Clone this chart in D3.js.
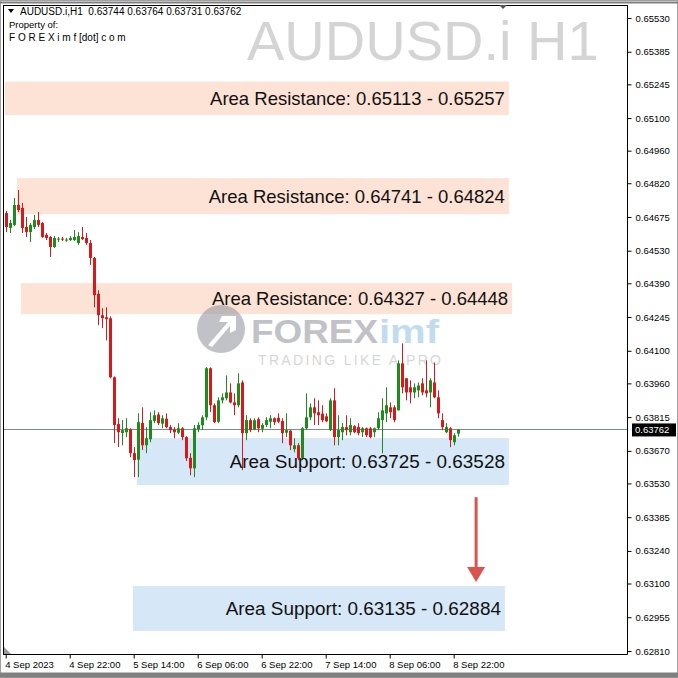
<!DOCTYPE html>
<html><head><meta charset="utf-8">
<script src="https://cdn.jsdelivr.net/npm/d3@7"></script>
<style>html,body{margin:0;padding:0;background:#fff;overflow:hidden}svg{display:block}</style>
</head><body><svg id="c" width="678" height="678"></svg>
<script>
// ---- data ----
const opens  = [.64692,.64628,.64641,.64727,.64714,.64632,.64610,.64632,.64662,.64649,.64598,.64589,.64546,.64580,.64582,.64576,.64576,.64576,.64563,.64589,.64585,.64563,.64499,.64345,.64253,.64244,.64240,.63986,.63785,.63746,.63750,.63763,.63660,.63632,.63790,.63694,.63720,.63798,.63826,.63787,.63808,.63772,.63762,.63748,.63767,.63729,.63640,.63595,.63763,.63780,.63814,.64025,.63866,.63795,.63887,.63896,.63921,.63878,.63866,.63964,.63746,.63802,.63762,.63806,.63765,.63781,.63795,.63810,.63812,.63798,.63748,.63757,.63677,.63694,.63638,.63767,.63814,.63857,.63836,.63830,.63818,.63759,.63887,.63729,.63750,.63772,.63750,.63776,.63772,.63750,.63767,.63767,.63750,.63767,.63802,.63831,.63857,.63857,.63844,.64046,.63982,.63943,.63921,.63930,.63960,.63930,.63921,.63964,.63900,.63802,.63750,.63767,.63707,.63744];
const highs  = [.64701,.64662,.64757,.64791,.64735,.64675,.64649,.64684,.64696,.64653,.64606,.64593,.64593,.64589,.64590,.64585,.64593,.64619,.64610,.64632,.64606,.64576,.64503,.64360,.64283,.64287,.64248,.63990,.63810,.63802,.63810,.63767,.63686,.63831,.63857,.63772,.63836,.63844,.63836,.63823,.63831,.63781,.63772,.63789,.63772,.63733,.63660,.63781,.63793,.63823,.64030,.64029,.63874,.63900,.63917,.63994,.63960,.63917,.64003,.63973,.63823,.63810,.63810,.63814,.63789,.63814,.63823,.63814,.63831,.63810,.63831,.63759,.63724,.63703,.63772,.63917,.63874,.63896,.63887,.63866,.63831,.63896,.63939,.63823,.63789,.63823,.63810,.63781,.63789,.63772,.63770,.63772,.63770,.63836,.63896,.63943,.63878,.63866,.64059,.64132,.63982,.63973,.63960,.63964,.63982,.64059,.63982,.64050,.63930,.63831,.63789,.63772,.63746,.63764];
const lows   = [.64610,.64606,.64636,.64696,.64606,.64589,.64567,.64623,.64632,.64585,.64576,.64503,.64542,.64567,.64572,.64568,.64572,.64572,.64555,.64576,.64555,.64469,.64287,.64210,.64197,.64145,.63982,.63703,.63686,.63694,.63729,.63643,.63557,.63557,.63673,.63660,.63707,.63789,.63781,.63767,.63767,.63746,.63724,.63742,.63716,.63626,.63565,.63557,.63750,.63759,.63802,.63836,.63789,.63789,.63874,.63887,.63874,.63823,.63857,.63587,.63716,.63750,.63759,.63750,.63750,.63772,.63767,.63781,.63789,.63703,.63729,.63673,.63664,.63630,.63630,.63759,.63802,.63781,.63781,.63793,.63793,.63755,.63694,.63694,.63716,.63737,.63737,.63746,.63737,.63729,.63729,.63724,.63729,.63759,.63660,.63793,.63810,.63793,.63844,.63917,.63887,.63874,.63896,.63900,.63909,.63900,.63857,.63896,.63810,.63759,.63746,.63686,.63694,.63731];
const closes = [.64632,.64649,.64727,.64705,.64628,.64610,.64641,.64662,.64641,.64589,.64585,.64546,.64585,.64582,.64580,.64578,.64585,.64589,.64593,.64580,.64563,.64499,.64339,.64253,.64240,.64236,.63986,.63781,.63750,.63759,.63767,.63660,.63630,.63793,.63694,.63724,.63802,.63823,.63789,.63810,.63772,.63759,.63750,.63767,.63729,.63638,.63595,.63767,.63781,.63814,.64025,.63866,.63793,.63887,.63900,.63921,.63878,.63866,.63960,.63746,.63802,.63759,.63802,.63767,.63781,.63802,.63810,.63793,.63795,.63746,.63759,.63694,.63694,.63638,.63767,.63814,.63857,.63831,.63823,.63802,.63797,.63887,.63729,.63759,.63772,.63759,.63781,.63750,.63746,.63767,.63737,.63729,.63767,.63810,.63844,.63866,.63836,.63802,.64046,.63943,.63921,.63921,.63943,.63951,.63921,.63917,.63973,.63900,.63831,.63772,.63772,.63716,.63737,.63762];

const priceTicks = ["0.65530","0.65385","0.65245","0.65100","0.64960","0.64820","0.64675","0.64530","0.64390","0.64245","0.64100","0.63960","0.63815","0.63670","0.63530","0.63385","0.63240","0.63100","0.62955","0.62810"];
const timeTickIdx = [0,16,32,48,64,80,96,112];
const timeTickLabels = ["4 Sep 2023","4 Sep 22:00","5 Sep 14:00","6 Sep 06:00","6 Sep 22:00","7 Sep 14:00","8 Sep 06:00","8 Sep 22:00"];

const zoneLabels = ["Area Resistance: 0.65113 - 0.65257","Area Resistance: 0.64741 - 0.64824","Area Resistance: 0.64327 - 0.64448","Area Support: 0.63725 - 0.63528","Area Support: 0.63135 - 0.62884"];
const zoneTop    = [0.65257,0.64842,0.64391,0.63725,0.63089];
const zoneBottom = [0.65113,0.64687,0.64258,0.63523,0.62896];
const zoneStart  = [-0.2,2.8,3.8,32.8,31.8];
const zoneEnd    = [125.8,125.8,126.6,125.8,124.8];
const zoneType   = ["res","res","res","sup","sup"];

const symbol = "AUDUSD.i";
const period = "H1";
const lastPrice = 0.63762;
const arrowFromTo = [0.63471, 0.63106]; // price span of arrow
const arrowIdx = 117.6;

// ---- drawing ----
const svg = d3.select("#c");
const L = 3, R = 627, T = 5, B = 654;
const x = d3.scaleLinear().domain([0, 113]).range([5.7, 457.7]);
const y = d3.scaleLinear().domain([0.62797, 0.65586]).range([B, T]);
const font = "'Liberation Sans', Arial, sans-serif";

// outer frame
svg.append("rect").attr("x",0).attr("y",0).attr("width",678).attr("height",678).attr("fill","#fff");
svg.append("rect").attr("x",0.5).attr("y",0.5).attr("width",677).attr("height",677).attr("fill","none").attr("stroke","#a0a0a0");
svg.append("line").attr("x1",0).attr("x2",678).attr("y1",2.5).attr("y2",2.5).attr("stroke","#808080").attr("stroke-width",2);
svg.append("line").attr("x1",0).attr("x2",678).attr("y1",675).attr("y2",675).attr("stroke","#808080").attr("stroke-width",5);

svg.append("defs").append("clipPath").attr("id","clip").append("rect").attr("x",L).attr("y",T).attr("width",R-L).attr("height",B-T);

// watermark title
svg.append("text").attr("x",247).attr("y",60).attr("font-family",font).attr("font-size",56)
  .attr("fill","#d4d4d4").text(symbol+" "+period);

// zone rectangles (behind candles)
const zg = svg.append("g");
zoneLabels.forEach((lab,i)=>{
  zg.append("rect").attr("x",x(zoneStart[i])).attr("y",y(zoneTop[i]))
    .attr("width",x(zoneEnd[i])-x(zoneStart[i])).attr("height",y(zoneBottom[i])-y(zoneTop[i]))
    .attr("fill", zoneType[i]==="res" ? "#fde3d6" : "#d6e7f7");
});

// logo watermark
const lg = svg.append("g").attr("opacity",0.55);
lg.append("circle").attr("cx",221).attr("cy",329).attr("r",24).attr("fill","#8e929c");
lg.append("path").attr("d","M208,345 L228,322 L219,322 L222,316 L236,316 L236,330 L230,333 L230,326 L212,347 Z").attr("fill","#fff");
lg.append("text").attr("x",251).attr("y",343).attr("font-family",font).attr("font-weight","bold").attr("font-size",34)
  .attr("fill","#8e929c").attr("textLength",127).attr("lengthAdjust","spacingAndGlyphs").text("FOREX");
lg.append("text").attr("x",379).attr("y",343).attr("font-family",font).attr("font-weight","bold").attr("font-size",34)
  .attr("fill","#8fc0e3").attr("textLength",60).attr("lengthAdjust","spacingAndGlyphs").text("imf");
svg.append("text").attr("x",258).attr("y",365).attr("font-family",font).attr("font-size",14)
  .attr("fill","#d6d6d6").attr("textLength",183).attr("lengthAdjust","spacing").text("TRADING LIKE A PRO");

// current price line
svg.append("line").attr("x1",L).attr("x2",R).attr("y1",Math.round(y(lastPrice))+0.5).attr("y2",Math.round(y(lastPrice))+0.5)
  .attr("stroke","#7f8a8f").attr("stroke-width",1);

// candles
const cg = svg.append("g").attr("clip-path","url(#clip)");
opens.forEach((o,i)=>{
  const c = closes[i], h = highs[i], l = lows[i];
  const up = c >= o;
  const col = up ? "#1e8b1e" : "#d7191c";
  const cx = Math.round(x(i)) + 0.5;
  cg.append("line").attr("x1",cx).attr("x2",cx).attr("y1",y(h)).attr("y2",y(l)).attr("stroke",col).attr("stroke-width",1);
  const top = y(Math.max(o,c)), bot = y(Math.min(o,c));
  cg.append("rect").attr("x",cx-1.5).attr("y",top).attr("width",3).attr("height",Math.max(1,bot-top)).attr("fill",col);
});

// zone labels (on top)
const tg = svg.append("g");
zoneLabels.forEach((lab,i)=>{
  tg.append("text").attr("x",x(zoneEnd[i])-4).attr("y",(y(zoneTop[i])+y(zoneBottom[i]))/2+6.5)
    .attr("text-anchor","end").attr("font-family",font).attr("font-size",zoneType[i]==="res"?18.5:18.9).attr("fill","#111").text(lab);
});

// arrow
const ax = x(arrowIdx);
const ay0 = y(arrowFromTo[0]), ay1 = y(arrowFromTo[1]);
svg.append("line").attr("x1",ax).attr("x2",ax).attr("y1",ay0).attr("y2",ay1-12)
  .attr("stroke","#d9534f").attr("stroke-width",3);
svg.append("path").attr("d",`M${ax-9},${ay1-15} L${ax+9},${ay1-15} L${ax},${ay1} Z`).attr("fill","#d9534f");

// axes frame
svg.append("line").attr("x1",R+0.5).attr("x2",R+0.5).attr("y1",T).attr("y2",B+0.5).attr("stroke","#000");
svg.append("line").attr("x1",L).attr("x2",R+0.5).attr("y1",B+0.5).attr("y2",B+0.5).attr("stroke","#000");
svg.append("line").attr("x1",L+0.5).attr("x2",L+0.5).attr("y1",T).attr("y2",B).attr("stroke","#000");
svg.append("line").attr("x1",L).attr("x2",R+0.5).attr("y1",T+0.5).attr("y2",T+0.5).attr("stroke","#000");
// scroll marker bottom-left
svg.append("path").attr("d",`M${L+1},${B-7} L${L+1},${B} L${L+8},${B} Z`).attr("fill","#9a9a9a");

// y ticks
const yAxis = d3.axisRight(y).tickValues(priceTicks.map(Number)).tickFormat((d,i)=>priceTicks[i]).tickSize(4).tickPadding(4);
const ya = svg.append("g").attr("transform",`translate(${R+0.5},0)`).call(yAxis);
ya.select(".domain").remove();
ya.selectAll("text").attr("font-family",font).attr("font-size",9.5).attr("fill","#000");

// x ticks
const xAxis = d3.axisBottom(x).tickValues(timeTickIdx).tickFormat((d,i)=>timeTickLabels[i]).tickSize(4).tickPadding(3);
const xa = svg.append("g").attr("transform",`translate(0,${B+0.5})`).call(xAxis);
xa.select(".domain").remove();
xa.selectAll("text").attr("font-family",font).attr("font-size",9.5).attr("fill","#000").attr("text-anchor","start").attr("dx",-1);

// last price label
const ly = y(lastPrice);
svg.append("rect").attr("x",632).attr("y",ly-6).attr("width",44).attr("height",13).attr("fill","#000");
svg.append("text").attr("x",635).attr("y",ly+4).attr("font-family",font).attr("font-size",9.5).attr("fill","#fff").text(lastPrice.toFixed(5));

// header
svg.append("path").attr("d","M8,9 L14,9 L11,13 Z").attr("fill","#000");
svg.append("text").attr("x",20).attr("y",15).attr("font-family",font).attr("font-size",10).attr("fill","#000")
  .attr("xml:space","preserve")
  .text(`${symbol},${period}  ${opens[113].toFixed(5)} ${highs[113].toFixed(5)} ${lows[113].toFixed(5)} ${closes[113].toFixed(5)}`);
svg.append("text").attr("x",9).attr("y",28).attr("font-family",font).attr("font-size",9.5).attr("fill","#000").text("Property of:");
svg.append("text").attr("x",9).attr("y",41).attr("font-family",font).attr("font-size",10).attr("fill","#000").text("F O R E X i m f [dot] c o m");

// shift marker
svg.append("path").attr("d","M499,5 L507,5 L503,9 Z").attr("fill","#555");
</script></body></html>
